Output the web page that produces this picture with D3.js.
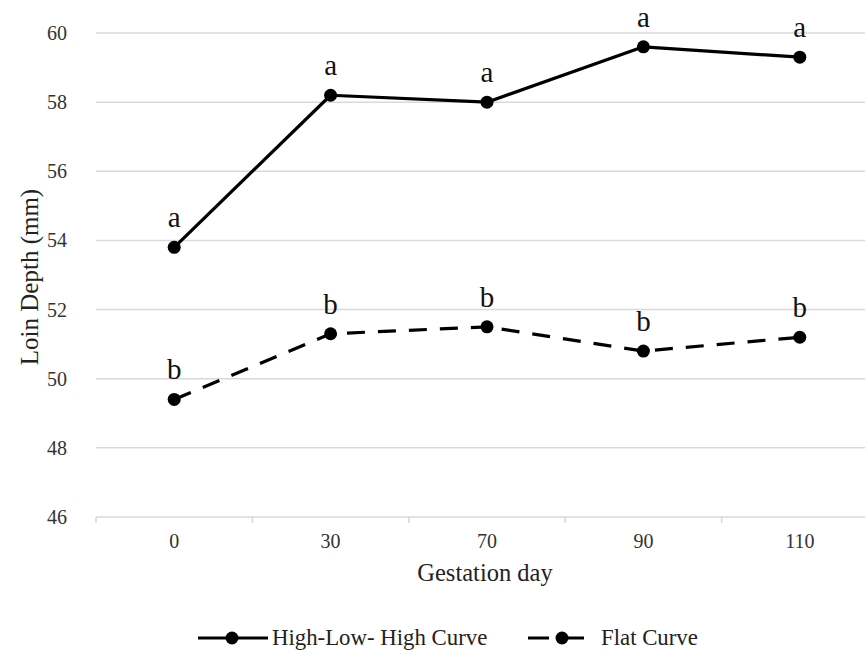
<!DOCTYPE html>
<html>
<head>
<meta charset="utf-8">
<script src="https://cdn.jsdelivr.net/npm/d3@7"></script>
<style>
  html, body { margin: 0; padding: 0; background: #fff; }
  svg { display: block; font-family: "Liberation Serif", "Times New Roman", serif; }
</style>
</head>
<body>
<svg id="chart" width="865" height="652"></svg>
<script>
const categories = ["0", "30", "70", "90", "110"];
const highLowHigh = [53.8, 58.2, 58.0, 59.6, 59.3];
const flatCurve = [49.4, 51.3, 51.5, 50.8, 51.2];
const highLabels = ["a", "a", "a", "a", "a"];
const flatLabels = ["b", "b", "b", "b", "b"];
const yTicks = [46, 48, 50, 52, 54, 56, 58, 60];
const seriesNames = ["High-Low- High Curve", "Flat Curve"];

const svg = d3.select("#chart");
const x = d3.scalePoint().domain(categories).range([96, 878]).padding(0.5);
const y = d3.scaleLinear().domain([46, 60]).range([517, 33]);
const step = x.step();

// gridlines
svg.append("g").selectAll("line").data(yTicks).join("line")
  .attr("x1", 96).attr("x2", 878)
  .attr("y1", d => y(d)).attr("y2", d => y(d))
  .attr("stroke", "#d9d9d9").attr("stroke-width", 1.5);

// x axis tick marks at category boundaries
const bounds = categories.map(c => x(c) - step / 2).concat([x(categories[categories.length - 1]) + step / 2]);
svg.append("g").selectAll("line").data(bounds).join("line")
  .attr("x1", d => d).attr("x2", d => d)
  .attr("y1", y(46)).attr("y2", y(46) + 6)
  .attr("stroke", "#d9d9d9").attr("stroke-width", 1.5);

// y tick labels
svg.append("g").selectAll("text").data(yTicks).join("text")
  .attr("x", 67).attr("y", d => y(d)).attr("dy", "0.35em")
  .attr("text-anchor", "end").attr("font-size", 20).attr("fill", "#333")
  .text(d => d);

// x tick labels
svg.append("g").selectAll("text").data(categories).join("text")
  .attr("x", d => x(d)).attr("y", 548)
  .attr("text-anchor", "middle").attr("font-size", 20).attr("fill", "#333")
  .text(d => d);

// axis titles
svg.append("text").attr("x", 485).attr("y", 581)
  .attr("text-anchor", "middle").attr("font-size", 24.5).attr("fill", "#222")
  .text("Gestation day");
svg.append("text").attr("transform", "translate(38,277) rotate(-90)")
  .attr("text-anchor", "middle").attr("font-size", 25).attr("fill", "#222")
  .text("Loin Depth (mm)");

const line = d3.line().x((d, i) => x(categories[i])).y(d => y(d));

function drawSeries(values, labels, dash) {
  const g = svg.append("g");
  g.append("path").datum(values).attr("d", line)
    .attr("fill", "none").attr("stroke", "#000").attr("stroke-width", 3.2)
    .attr("stroke-dasharray", dash).attr("stroke-linejoin", "round");
  g.selectAll("circle").data(values).join("circle")
    .attr("cx", (d, i) => x(categories[i])).attr("cy", d => y(d)).attr("r", 6.5)
    .attr("fill", "#000");
  g.selectAll("text").data(values).join("text")
    .attr("x", (d, i) => x(categories[i])).attr("y", d => y(d) - 20)
    .attr("text-anchor", "middle").attr("font-size", 29).attr("fill", "#111")
    .text((d, i) => labels[i]);
}
drawSeries(highLowHigh, highLabels, null);
drawSeries(flatCurve, flatLabels, "18,13");

// legend
const leg = svg.append("g");
leg.append("line").attr("x1", 198).attr("x2", 268).attr("y1", 638).attr("y2", 638)
  .attr("stroke", "#000").attr("stroke-width", 3.2);
leg.append("circle").attr("cx", 232).attr("cy", 638).attr("r", 6.5).attr("fill", "#000");
leg.append("text").attr("x", 272).attr("y", 645).attr("font-size", 22.8).attr("fill", "#222")
  .text(seriesNames[0]);
leg.append("line").attr("x1", 528).attr("x2", 584).attr("y1", 638).attr("y2", 638)
  .attr("stroke", "#000").attr("stroke-width", 3.2).attr("stroke-dasharray", "21,14");
leg.append("circle").attr("cx", 562).attr("cy", 638).attr("r", 6.5).attr("fill", "#000");
leg.append("text").attr("x", 601).attr("y", 645).attr("font-size", 22.8).attr("fill", "#222")
  .text(seriesNames[1]);
</script>
</body>
</html>
